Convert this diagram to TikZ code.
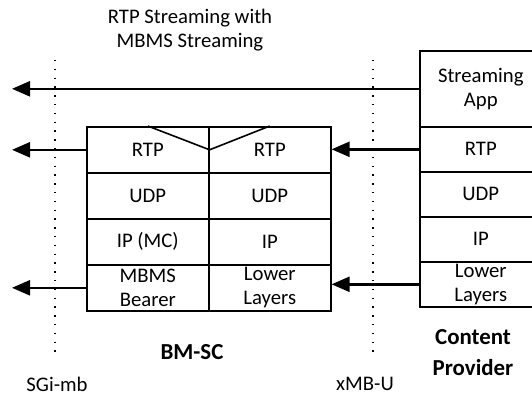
\documentclass[tikz,border=0pt]{standalone}
\usepackage{fontspec}
\setmainfont{Carlito}
\usetikzlibrary{arrows.meta}

\begin{document}
\begin{tikzpicture}[x=1bp, y=-1bp,
    every node/.style={font=\fontsize{20.8}{24.5}\selectfont},
    cell/.style={draw, line width=1.6bp, minimum width=122bp, minimum height=46bp,
      inner sep=0pt, align=center, anchor=north west},
    flow/.style={line width=2.4bp, -{Triangle[length=18bp, width=15bp]}},
    iface/.style={line width=1.3bp, dash pattern=on 1.3bp off 7.5bp},
    title/.style={font=\fontsize{23}{31}\selectfont\bfseries, align=center}]
  % Picture frame
  \useasboundingbox (0,0) rectangle (532,398);
  \clip (0,0) rectangle (532,398);

  % Heading
  \node[align=center] (head) at (190,30) {RTP Streaming with\\MBMS Streaming};

  % Interface lines
  \coordinate (sgiTop) at (55,60);
  \coordinate (sgiBot) at (55,352);
  \coordinate (xmbTop) at (373,60);
  \coordinate (xmbBot) at (373,352);
  \draw[iface] (sgiTop) -- (sgiBot);
  \draw[iface] (xmbTop) -- (xmbBot);

  % BM-SC stack
  \node[cell] (bmRtpL) at (86,126) {RTP};
  \node[cell] (bmRtpR) at (208,126) {RTP};
  \node[cell] (bmUdpL) at (86,172) {UDP};
  \node[cell] (bmUdpR) at (208,172) {UDP};
  \node[cell] (bmIpL) at (86,218) {IP (MC)};
  \node[cell] (bmIpR) at (208,218) {IP};
  \node[cell] (bmLowL) at (86,264) {MBMS\\Bearer};
  \node[cell] (bmLowR) at (208,264) {Lower\\Layers};
  \draw[line width=1.6bp] (bmRtpL.north) -- (bmRtpL.east) -- (bmRtpR.north);

  % Content provider stack
  \node[cell, minimum height=76bp] (cpApp) at (419,50) {Streaming\\App};
  \node[cell, minimum height=45bp] (cpRtp) at (419,126) {RTP};
  \node[cell, minimum height=45bp] (cpUdp) at (419,171) {UDP};
  \node[cell, minimum height=45bp] (cpIp) at (419,216) {IP};
  \node[cell, minimum height=45bp] (cpLow) at (419,261) {Lower\\Layers};

  % Flows
  \coordinate (appOut) at (12,88);
  \coordinate (rtpOut) at (12,149);
  \coordinate (lowOut) at (12,286);
  \draw[flow] (cpApp.west) -- (cpApp.west -| appOut);
  \draw[flow] (cpRtp.west) -- (cpRtp.west -| bmRtpR.east);
  \draw[flow] (cpLow.west) -- (cpLow.west -| bmLowR.east);
  \draw[flow] (bmRtpL.west) -- (bmRtpL.west -| rtpOut);
  \draw[flow] (bmLowL.west) -- (bmLowL.west -| lowOut);

  % Labels
  \node[title] (bmsc) at (192,352) {BM-SC};
  \node[title] (cp) at (473,353) {Content\\Provider};
  \node (sgi) at (57,384) {SGi-mb};
  \node (xmb) at (365,384) {xMB-U};
\end{tikzpicture}
\end{document}
